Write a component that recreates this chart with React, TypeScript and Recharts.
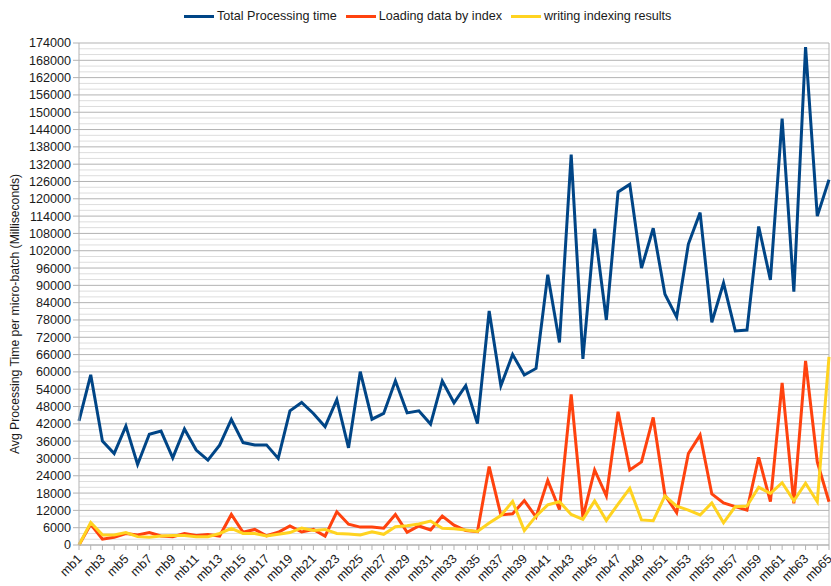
import React from 'react';
import { LineChart, Line, XAxis, YAxis, CartesianGrid, Legend, ReferenceLine } from 'recharts';

const categories = [
  'mb1','mb2','mb3','mb4','mb5','mb6','mb7','mb8','mb9','mb10',
  'mb11','mb12','mb13','mb14','mb15','mb16','mb17','mb18','mb19','mb20',
  'mb21','mb22','mb23','mb24','mb25','mb26','mb27','mb28','mb29','mb30',
  'mb31','mb32','mb33','mb34','mb35','mb36','mb37','mb38','mb39','mb40',
  'mb41','mb42','mb43','mb44','mb45','mb46','mb47','mb48','mb49','mb50',
  'mb51','mb52','mb53','mb54','mb55','mb56','mb57','mb58','mb59','mb60',
  'mb61','mb62','mb63','mb64','mb65',
];

const totalProcessing = [
  43000, 59000, 36000, 31700, 41200, 27900, 38400, 39500, 30200, 40200,
  32900, 29400, 34600, 43500, 35500, 34700, 34700, 30000, 46500, 49400,
  45600, 41000, 50400, 33700, 60100, 43600, 45600, 56900, 45800, 46500,
  41900, 56800, 49300, 55200, 42100, 81100, 55200, 66000, 58900, 61200,
  93700, 70200, 135300, 64500, 109600, 78000, 122400, 125000, 96000, 109800,
  86900, 79000, 104300, 115200, 77200, 90800, 74200, 74500, 110400, 91900,
  147800, 87800, 172600, 114000, 126600,
];

const loadingByIndex = [
  0, 7200, 2000, 2700, 4000, 3500, 4300, 3100, 2900, 4000,
  3300, 3600, 3100, 10600, 4400, 5400, 3200, 4400, 6600, 4500,
  5400, 3100, 11500, 7200, 6200, 6200, 5800, 10600, 4400, 6600,
  5200, 10000, 6900, 5000, 4600, 27200, 10400, 10800, 15400, 9700,
  22400, 12300, 52200, 9600, 26000, 17000, 46200, 26000, 28800, 44200,
  17300, 11200, 31700, 38100, 17700, 14600, 13300, 12100, 30400, 15000,
  56200, 14400, 63800, 28800, 15000,
];

const writingResults = [
  0, 7800, 3500, 3500, 4300, 2900, 2700, 3100, 3300, 3300,
  2900, 2900, 4000, 5800, 4000, 4000, 3100, 3700, 4300, 5900,
  5000, 5400, 4000, 3800, 3500, 4600, 3700, 6300, 6700, 7300,
  8300, 5800, 5600, 5200, 4700, 7600, 10200, 15100, 5000, 10000,
  13900, 15000, 10600, 8900, 15300, 8500, 14200, 19600, 8700, 8400,
  17000, 13500, 12100, 10400, 14600, 7700, 13300, 13500, 20000, 17900,
  21600, 15300, 21400, 15000, 65200,
];

const yTicks = [
  0, 6000, 12000, 18000, 24000, 30000, 36000, 42000, 48000, 54000,
  60000, 66000, 72000, 78000, 84000, 90000, 96000, 102000, 108000, 114000,
  120000, 126000, 132000, 138000, 144000, 150000, 156000, 162000, 168000, 174000,
];
const yMax = 174000;
const minorStep = 2000;

const seriesInfo = [
  { key: 'total', name: 'Total Processing time', color: '#004586' },
  { key: 'loading', name: 'Loading data by index', color: '#ff420e' },
  { key: 'writing', name: 'writing indexing results', color: '#ffd320' },
];

const data = categories.map((c, i) => ({
  name: c,
  total: totalProcessing[i],
  loading: loadingByIndex[i],
  writing: writingResults[i],
}));

const FONT = '"Liberation Sans", Arial, sans-serif';
const FS = 12.6;

const XTick = (props: any) => {
  const { x, y, payload } = props;
  if (payload.index % 2 !== 0) return <g />;
  const ox = x + 0.5;
  const oy = y + 1.5;
  return (
    <text
      x={ox}
      y={oy}
      dy="0.35em"
      textAnchor="end"
      transform={`rotate(-45, ${ox}, ${oy})`}
      fontSize={FS}
      fontFamily={FONT}
      fill="#1a1a1a"
    >
      {payload.value}
    </text>
  );
};

const LegendContent = () => (
  <div
    style={{
      display: 'flex',
      alignItems: 'center',
      height: 16,
      fontFamily: FONT,
      fontSize: FS,
      color: '#1a1a1a',
      whiteSpace: 'nowrap',
    }}
  >
    {seriesInfo.map((s) => (
      <div key={s.key} style={{ display: 'flex', alignItems: 'center', marginRight: 9 }}>
        <div style={{ width: 30, height: 3, background: s.color, marginRight: 3 }} />
        <span>{s.name}</span>
      </div>
    ))}
  </div>
);

const YLabel = (props: any) => {
  const { viewBox } = props;
  const cy = viewBox.y + viewBox.height / 2 + 20;
  const cx = 7;
  return (
    <text
      x={cx}
      y={cy}
      transform={`rotate(-90, ${cx}, ${cy})`}
      textAnchor="middle"
      dominantBaseline="central"
      fontSize={12.2}
      fontFamily={FONT}
      fill="#1a1a1a"
    >
      Avg Processing Time per micro-batch (Milliseconds)
    </text>
  );
};

const minorGrid = (props: any) => {
  const off = props.offset || {};
  const top = off.top ?? 35;
  const h = off.height ?? 502;
  const pts: number[] = [];
  for (let v = 0; v <= yMax; v += minorStep) {
    if (v % 6000 !== 0) pts.push(top + h * (1 - v / yMax));
  }
  return pts;
};

export default function App() {
  return (
    <div style={{ position: 'absolute', left: 8, top: 8, width: 823, height: 578 }}>
      <LineChart
        width={823}
        height={578}
        data={data}
        margin={{ top: 35, right: 2, bottom: 1, left: 0 }}
        style={{ overflow: 'visible' }}
      >
        <CartesianGrid vertical={false} stroke="#dddddd" horizontalCoordinatesGenerator={minorGrid} />
        <CartesianGrid vertical={false} stroke="#b3b3b3" />
        <ReferenceLine x="mb65" stroke="#b3b3b3" />
        <XAxis
          dataKey="name"
          interval={0}
          tick={<XTick />}
          tickSize={5}
          tickMargin={5}
          height={40}
          stroke="#b3b3b3"
          tickLine={{ stroke: '#b3b3b3' }}
        />
        <YAxis
          domain={[0, yMax]}
          ticks={yTicks}
          interval={0}
          width={71}
          tickSize={6}
          tickMargin={2}
          stroke="#b3b3b3"
          tick={{ fontSize: FS, fontFamily: FONT, fill: '#1a1a1a' }}
          label={<YLabel />}
        />
        <Legend
          verticalAlign="middle"
          align="center"
          content={<LegendContent />}
          wrapperStyle={{ top: 0, left: 176, width: 'auto', height: 16 }}
        />
        {seriesInfo.map((s) => (
          <Line
            key={s.key}
            type="linear"
            dataKey={s.key}
            name={s.name}
            stroke={s.color}
            strokeWidth={3}
            dot={false}
            activeDot={false}
            isAnimationActive={false}
          />
        ))}
      </LineChart>
    </div>
  );
}
